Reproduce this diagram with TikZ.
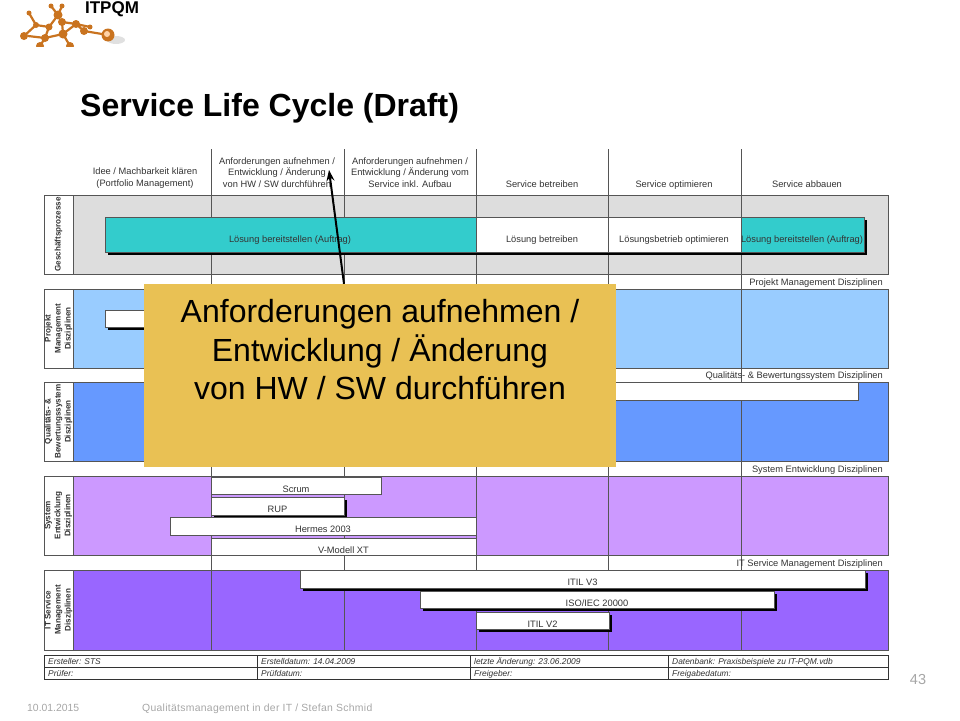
\documentclass[tikz,border=0pt]{standalone}
\usepackage{fontspec}
\setmainfont{Liberation Sans}
\usetikzlibrary{calc,arrows.meta}
\definecolor{procgrey}{HTML}{DDDDDD}
\definecolor{lightblue}{HTML}{99CCFF}
\definecolor{midblue}{HTML}{6699FF}
\definecolor{lightpurple}{HTML}{CC99FF}
\definecolor{midpurple}{HTML}{9966FF}
\definecolor{barteal}{HTML}{33CCCC}
\definecolor{calloutyellow}{HTML}{E9C154}
\definecolor{logoorange}{HTML}{C9731F}
\definecolor{linegrey}{HTML}{555555}
\definecolor{textgrey}{HTML}{333333}
\definecolor{footgrey}{HTML}{A6A6A6}
\tikzset{
    panelline/.style={draw=linegrey, line width=1pt},
    collabel/.style={inner sep=0pt, align=center, text=textgrey, font=\fontsize{9.3}{11.3}\selectfont},
    barlabel/.style={inner sep=0pt, anchor=base, text=textgrey, font=\fontsize{9.3}{10}\selectfont},
    sidelabel/.style={inner sep=0pt, rotate=90, align=center, text=textgrey, font=\bfseries\fontsize{8.1}{10}\selectfont},
    disclabel/.style={inner sep=0pt, anchor=base east, text=textgrey, font=\fontsize{9.3}{10}\selectfont},
    metalabel/.style={inner sep=0pt, anchor=base west, text=textgrey, font=\itshape\fontsize{8.4}{10}\selectfont},
    footlabel/.style={inner sep=0pt, anchor=base west, text=footgrey, font=\fontsize{10.4}{12}\selectfont}
}

\begin{document}
\begin{tikzpicture}[x=1pt, y=-1pt]
    \useasboundingbox (0,0) rectangle (960,720);

    % Logo
    \begin{scope}
        \clip (15,0) rectangle (130,46);
        \fill[black!12] (116,40) ellipse (9 and 4);
        \draw[logoorange, line width=2.2pt] (24,36) -- (36,25) -- (29,13) (36,25) -- (49,27) -- (58,15) -- (62,6)
            (58,15) -- (51,6) (49,27) -- (45,38) -- (28,36) (45,38) -- (63,34) -- (76,24) -- (62,22) -- (63,34)
            (76,24) -- (90,27) (63,34) -- (70,46) (84,31) -- (108,35) (84,31) -- (76,24) (45,38) -- (40,46);
        \foreach \x/\y/\r in {24/36/4, 36/25/3, 29/13/2.5, 49/27/3.5, 58/15/4.5, 62/6/2.5, 51/6/2.5, 45/38/4, 63/34/4.5, 76/24/4, 62/22/4, 90/27/2.5, 84/31/4, 70/46/4, 40/46/4} {
            \fill[logoorange] (\x,\y) circle (\r);
        }
        \fill[logoorange] (108,35) circle (6.5);
        \fill[orange!35] (107,34) circle (3);
    \end{scope}
    \node[inner sep=0pt, font=\bfseries\fontsize{17}{19}\selectfont] (logotext) at (112,9) {ITPQM};

    % Title
    \node[inner sep=0pt, anchor=base west, font=\bfseries\fontsize{32}{34}\selectfont] (title) at (80,116) {Service Life Cycle (Draft)};

    % Panels with their side labels
    \foreach \ya/\yb/\fillcol/\txt in {
        195/274/procgrey/{Geschäftsprozesse},
        289/368/lightblue/{Projekt\\Management\\Disziplinen},
        382/461/midblue/{Qualitäts- \&\\Bewertungssystem\\Disziplinen},
        476/555/lightpurple/{System\\Entwicklung\\Disziplinen},
        570/650/midpurple/{IT Service\\Management\\Disziplinen}} {
        \draw[panelline, fill=\fillcol] (73,\ya) rectangle (888,\yb);
        \draw[panelline, fill=white] (44,\ya) rectangle (73,\yb);
        \node[sidelabel] at (58.5,{(\ya+\yb)/2}) {\txt};
    }

    % Column lines
    \foreach \x in {211,344,476,608,741} {
        \draw[panelline] (\x,149) -- (\x,650);
    }

    % Column headings
    \node[collabel] (colidea) at (145,178) {Idee / Machbarkeit klären\\(Portfolio Management)};
    \node[collabel] (colreq) at (277,172.5) {Anforderungen aufnehmen /\\Entwicklung / Änderung\\von HW / SW durchführen};
    \node[collabel] (coldev) at (410,172.5) {Anforderungen aufnehmen /\\Entwicklung / Änderung vom\\Service inkl. Aufbau};
    \node[collabel, anchor=base] (colrun) at (542,187) {Service betreiben};
    \node[collabel, anchor=base] (colopt) at (674,187) {Service optimieren};
    \node[collabel, anchor=base] (colend) at (807,187) {Service abbauen};

    % Discipline headings
    \node[disclabel] (discpm) at (883,285) {Projekt Management Disziplinen};
    \node[disclabel] (discqs) at (883,378) {Qualitäts- \& Bewertungssystem Disziplinen};
    \node[disclabel] (discse) at (883,472) {System Entwicklung Disziplinen};
    \node[disclabel] (discit) at (883,566) {IT Service Management Disziplinen};

    % Process bar
    \fill[black] (108,220) rectangle (867,255);
    \draw[panelline, fill=barteal] (105,217) rectangle (476,252);
    \draw[panelline, fill=white] (476,217) rectangle (741,252);
    \draw[panelline, fill=barteal] (741,217) rectangle (864,252);
    \draw[panelline] (608,217) -- (608,252);
    \node[barlabel] (barbuild) at (290,242) {Lösung bereitstellen (Auftrag)};
    \node[barlabel] (barrun) at (542,242) {Lösung betreiben};
    \node[barlabel] (baropt) at (674,242) {Lösungsbetrieb optimieren};
    \node[barlabel] (barend) at (802,242) {Lösung bereitstellen (Auftrag)};

    % White bars with shadow
    \foreach \xa/\ya/\xb/\yb/\txt in {
        105/310/200/327/{},
        211/497/344/515/{RUP},
        300/570/865/588/{ITIL V3},
        420/591/774/608/{ISO/IEC 20000},
        476/612/609/629/{ITIL V2}} {
        \fill[black] (\xa+3,\ya+3) rectangle (\xb+3,\yb+3);
        \draw[panelline, fill=white] (\xa,\ya) rectangle (\xb,\yb);
        \node[barlabel] at ({(\xa+\xb)/2},{(\ya+\yb)/2+6.5}) {\txt};
    }

    % White bars without shadow
    \foreach \xa/\ya/\xb/\yb/\txt in {
        200/382/858/400/{},
        211/477/381/494/{Scrum},
        170/517/476/535/{Hermes 2003},
        211/538/476/555/{V-Modell XT}} {
        \draw[panelline, fill=white] (\xa,\ya) rectangle (\xb,\yb);
        \node[barlabel] at ({(\xa+\xb)/2},{(\ya+\yb)/2+6.5}) {\txt};
    }

    % Title block
    \draw[black!80, line width=1pt, fill=white] (44,655) rectangle (888,679);
    \draw[black!80, line width=1pt] (44,667) -- (888,667);
    \foreach \x in {257,470,668} {
        \draw[black!80, line width=1pt] (\x,655) -- (\x,679);
    }
    \foreach \x/\y/\txt in {
        48/664/{Ersteller: STS}, 261/664/{Erstelldatum: 14.04.2009}, 474/664/{letzte Änderung: 23.06.2009}, 672/664/{Datenbank: Praxisbeispiele zu IT-PQM.vdb},
        48/676/{Prüfer:}, 261/676/{Prüfdatum:}, 474/676/{Freigeber:}, 672/676/{Freigabedatum:}} {
        \node[metalabel] at (\x,\y) {\txt};
    }

    % Callout over the chart
    \node[fill=calloutyellow, inner sep=0pt, minimum width=472pt, minimum height=183pt] (callout) at (380,375.5) {};
    \node[inner sep=0pt, align=center, font=\fontsize{32}{38.5}\selectfont] (callouttext) at (380,350) {Anforderungen aufnehmen /\\Entwicklung / Änderung\\von HW / SW durchführen};
    \coordinate (arrowtip) at (329,170);
    \draw[-{Stealth[length=11pt,width=8pt]}, line width=2pt] ([xshift=-36pt]callout.north) -- (arrowtip);

    % Footer
    \node[footlabel] (footdate) at (27,711) {10.01.2015};
    \node[footlabel] (foottext) at (142,711) {\addfontfeature{LetterSpace=2.8}Qualitätsmanagement in der IT / Stefan Schmid};
    \node[inner sep=0pt, text=footgrey, font=\fontsize{14.5}{16}\selectfont] (pagenum) at (918,679) {43};
\end{tikzpicture}
\end{document}
